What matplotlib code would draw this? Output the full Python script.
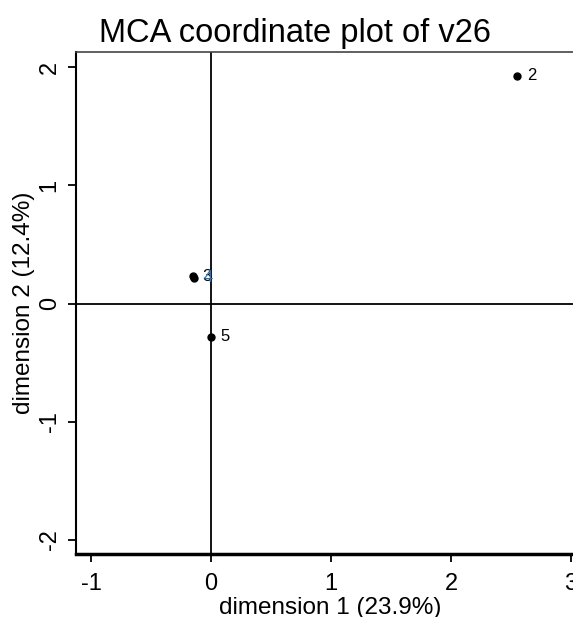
import numpy as np
import matplotlib.pyplot as plt

plt.rcParams['font.family'] = ['Liberation Sans', 'DejaVu Sans']
plt.rcParams['axes.unicode_minus'] = False

# MCA category coordinates for v26
cats = ['2', '3', '4', '5']
dim1 = [2.55, -0.15, -0.14, 0.00]
dim2 = [1.93, 0.23, 0.22, -0.28]

fig = plt.figure(figsize=(5.73, 6.17), dpi=100)
ax = fig.add_axes([0.1326, 0.1021, 0.887, 0.8136])

ax.axhline(0, color='black', lw=1.3, zorder=1)
ax.axvline(0, color='black', lw=1.3, zorder=1)

ax.plot(dim1, dim2, 'o', color='black', ms=5, zorder=3)
lab_cols = ['black', 'black', '#2a6fb0', 'black']
for c, x, y, col in zip(cats, dim1, dim2, lab_cols):
    ax.annotate(c, (x, y), xytext=(7, 0), textcoords='offset points',
                va='center', ha='left', fontsize=12, color=col)

ax.set_xlim(-1.125, 3.11)
ax.set_ylim(-2.12, 2.13)
ax.set_xticks([-1, 0, 1, 2, 3])
ax.set_yticks([-2, -1, 0, 1, 2])
ax.tick_params(axis='both', direction='out', length=6, width=1.3, labelsize=17)
ax.tick_params(axis='x', pad=8)
ax.tick_params(axis='y', pad=5)
for lab in ax.get_yticklabels():
    lab.set_rotation(90)
    lab.set_va('center')

ax.spines['left'].set_linewidth(1.5)
ax.spines['bottom'].set_linewidth(2.5)
ax.spines['top'].set_linewidth(1.2)
ax.spines['top'].set_color('#444444')
ax.spines['right'].set_visible(False)

ax.set_xlabel('dimension 1 (23.9%)', fontsize=17.5, labelpad=1)
ax.set_ylabel('dimension 2 (12.4%)', fontsize=17.5, labelpad=3)
ax.set_title('MCA coordinate plot of v26', fontsize=23.5, pad=7, x=0.43)

fig.savefig('out.png', dpi=100)
